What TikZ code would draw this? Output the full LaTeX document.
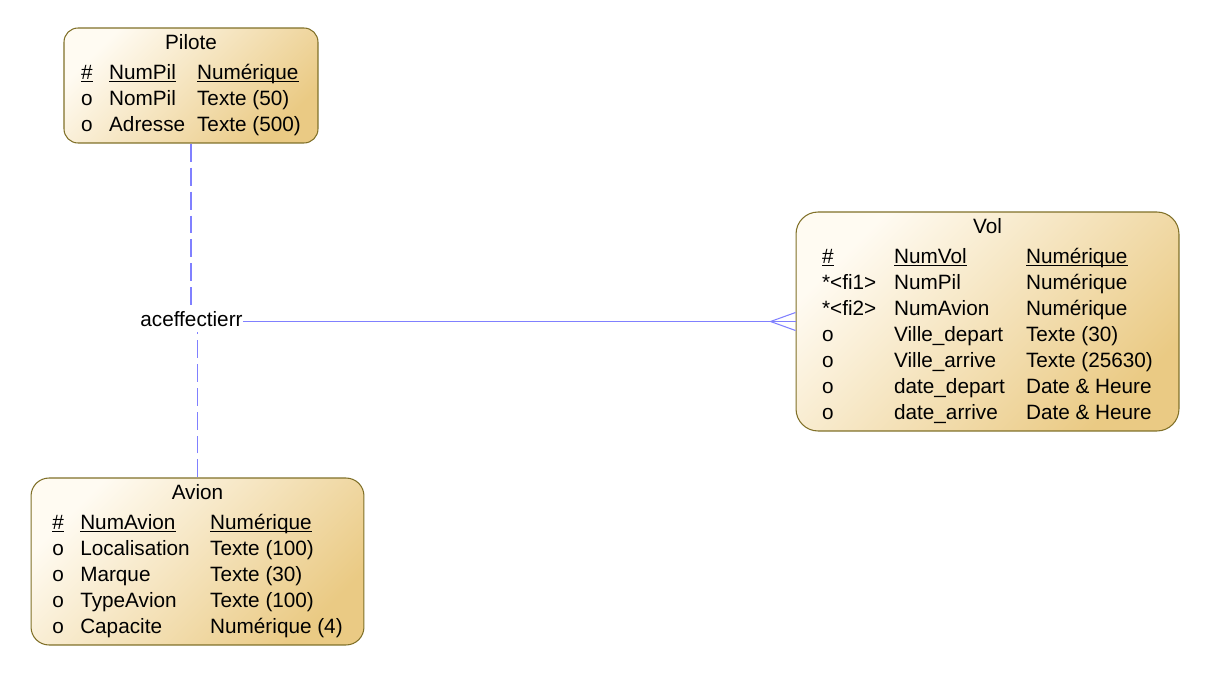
\documentclass[tikz,border=0pt]{standalone}
\usepackage{fontspec}
\setmainfont{Liberation Sans}
\usepackage{array}
\usetikzlibrary{positioning}
\definecolor{fondclair}{RGB}{255,251,242}
\definecolor{fondfonce}{RGB}{234,202,132}
\definecolor{bord}{RGB}{128,112,40}
\definecolor{lien}{RGB}{128,128,255}
% identifiant souligne
\newcommand{\cle}[1]{\leavevmode\sbox0{#1}\rlap{\rule[-0.05cm]{\wd0}{0.032cm}}\usebox0}

\tikzset{
  entite/.style={draw=bord, line width=0.6pt, rounded corners=#1,
    top color=fondclair, bottom color=fondfonce, shading angle=45,
    inner sep=0pt, font=\fontsize{11.8}{14.8}\selectfont},
  pointille/.style={draw=lien, line width=0.6pt, dash pattern=on 0.36cm off 0.12cm},
  trait/.style={draw=lien, line width=0.6pt},
}

\begin{document}
\begin{tikzpicture}[x=0.02cm, y=-0.02cm]
  \useasboundingbox (0,0) rectangle (1227,679);
  %
  \node[entite=0.28cm, minimum width=5.08cm, minimum height=2.30cm] (pilote) at (191,85.5) {%
    \begin{tabular}{@{}p{0.56cm}@{}p{1.76cm}@{}l@{}}
      \multicolumn{3}{@{}c@{}}{Pilote}\\[2.3pt]
      \cle{\#} & \cle{NumPil} & \cle{Numérique}\\
      o & NomPil & Texte (50)\\
      o & Adresse & Texte (500)
    \end{tabular}};
  \node[entite=0.44cm, minimum width=7.66cm, minimum height=4.38cm] (vol) at (987.5,321.5) {%
    \begin{tabular}{@{}p{1.44cm}@{}p{2.64cm}@{}l@{}}
      \multicolumn{3}{@{}c@{}}{Vol}\\[2.3pt]
      \cle{\#} & \cle{NumVol} & \cle{Numérique}\\
      {}*<fi1> & NumPil & Numérique\\
      {}*<fi2> & NumAvion & Numérique\\
      o & Ville\_depart & Texte (30)\\
      o & Ville\_arrive & Texte (25630)\\
      o & date\_depart & Date \& Heure\\
      o & date\_arrive & Date \& Heure
    \end{tabular}};
  \node[entite=0.36cm, minimum width=6.66cm, minimum height=3.34cm] (avion) at (197.5,561.5) {%
    \begin{tabular}{@{}p{0.56cm}@{}p{2.6cm}@{}l@{}}
      \multicolumn{3}{@{}c@{}}{Avion}\\[2.3pt]
      \cle{\#} & \cle{NumAvion} & \cle{Numérique}\\
      o & Localisation & Texte (100)\\
      o & Marque & Texte (30)\\
      o & TypeAvion & Texte (100)\\
      o & Capacite & Numérique (4)
    \end{tabular}};
  %
  % association
  \node[inner xsep=0pt, inner ysep=0pt, minimum height=0.52cm,
        font=\fontsize{11.8}{14.8}\selectfont] (effectuer) at (191.5,319) {aceffectierr};
  \draw[pointille] (pilote.south) -- (pilote.south |- effectuer.north);
  \draw[pointille] (avion.north) -- (avion.north |- effectuer.south);
  \draw[trait] (effectuer.east |- vol.west) -- (vol.west);
  % patte de corbeau
  \coordinate (patte) at ([xshift=-0.5cm]vol.west);
  \draw[trait] (patte) -- ([yshift=0.18cm]vol.west);
  \draw[trait] (patte) -- ([yshift=-0.18cm]vol.west);
\end{tikzpicture}
\end{document}
